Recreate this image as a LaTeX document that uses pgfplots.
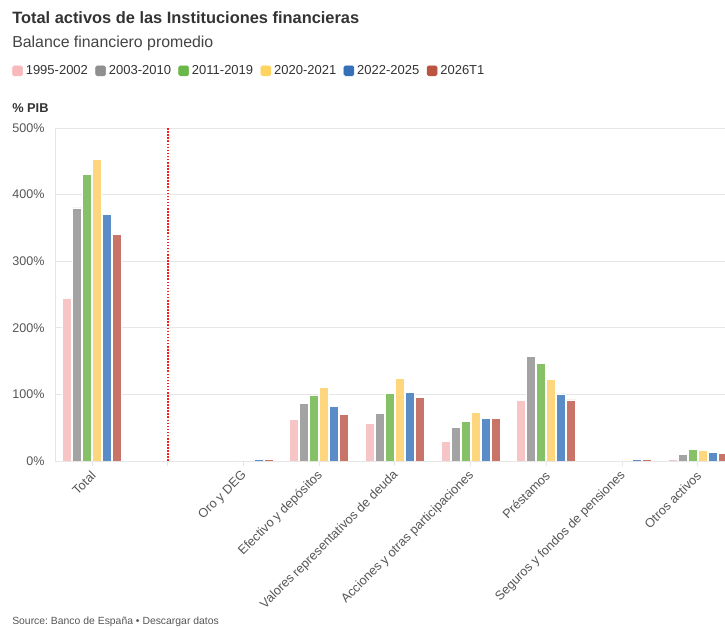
\documentclass[border=0pt]{standalone}
\usepackage{pgfplots}
\pgfplotsset{compat=1.18}
\usepackage{fontspec}
\setmainfont{Liberation Sans}
\frenchspacing
\definecolor{bPink}{HTML}{F7C5C5}
\definecolor{bGray}{HTML}{A3A3A3}
\definecolor{bGreen}{HTML}{86C167}
\definecolor{bYellow}{HTML}{FDD67D}
\definecolor{bBlue}{HTML}{5A8CC8}
\definecolor{bRed}{HTML}{C87468}
\definecolor{lPink}{HTML}{F7B9B9}
\definecolor{lGray}{HTML}{8F8F8F}
\definecolor{lGreen}{HTML}{6BB84A}
\definecolor{lYellow}{HTML}{FFD35E}
\definecolor{lBlue}{HTML}{3670B9}
\definecolor{lRed}{HTML}{BA5541}
\definecolor{tcol}{HTML}{333333}
\definecolor{scol}{HTML}{444444}
\definecolor{gcol}{HTML}{E6E6E6}
\definecolor{kcol}{HTML}{555555}
\definecolor{sepred}{HTML}{FF1A1A}
\pgfplotstableread{
x p1 p2 p3 p4 p5 p6
0 245 380 430 453 370 340
2 0.5 0.5 1 1 2.5 3
3 62 86.6 98.6 110.6 81.5 70
4 56.6 71.6 102 124.6 103 96
5 29 50.6 60 73 64 63.5
6 90.5 157 146.7 123 100.6 91.6
7 0.5 1 1 1.5 2 2
8 3 10 18 16.5 13.5 11.5
}\data
\newcommand{\legimg}[1]{\fill[#1,rounded corners=1.2pt] (0pt,-3.6pt) rectangle (7.5pt,3.9pt);}
\begin{document}
\begin{tikzpicture}
\useasboundingbox (0pt,0pt) rectangle (543.75pt,471pt);
\node[anchor=base west, inner sep=0pt, text=tcol, font=\bfseries\fontsize{12.3}{14}\selectfont] at (9pt,453pt) {Total activos de las Instituciones financieras};
\node[anchor=base west, inner sep=0pt, text=scol, font=\fontsize{11.9}{13}\selectfont] at (9pt,435pt) {Balance financiero promedio};
\node[anchor=base west, inner sep=0pt, text=tcol, font=\bfseries\fontsize{9.6}{11}\selectfont] at (9pt,386.25pt) {\% PIB};
\node[anchor=base west, inner sep=0pt, text=kcol, font=\fontsize{7.8}{9}\selectfont] at (9pt,2.25pt) {Source: Banco de España • Descargar datos};
\begin{axis}[
  at={(41.25pt,125.25pt)}, anchor=south west,
  scale only axis, width=502.5pt, height=249.75pt,
  ybar=0.75pt, bar width=6.75pt,
  xmin=-0.489, xmax=8.362, ymin=0, ymax=500,
  axis lines*=left,
  axis line style={draw=gcol, line width=0.6pt},
  x axis line style={draw=none},
  ymajorgrids, grid style={gcol, line width=0.6pt},
  ytick={0,100,200,300,400,500},
  yticklabels={0\%,100\%,200\%,300\%,400\%,500\%},
  ytick style={draw=none},
  yticklabel style={text=kcol, font=\fontsize{9.4}{11}\selectfont, xshift=-4.4pt},
  xtick={0,1,2,3,4,5,6,7,8},
  xticklabels={Total,,Oro y DEG,Efectivo y depósitos,Valores representativos de deuda,Acciones y otras participaciones,Préstamos,Seguros y fondos de pensiones,Otros activos},
  xtick align=outside, major tick length=3.75pt,
  xtick style={draw=gcol, line width=0.6pt},
  xticklabel style={xshift=3.5pt, yshift=-3.2pt, rotate=45, anchor=east, text=kcol, font=\fontsize{9.5}{11}\selectfont},
  legend columns=6,
  legend style={at={(-0.0642,1.1712)}, anchor=west, draw=none, fill=none, inner sep=0pt,
    font=\fontsize{9.75}{11}\selectfont, text=tcol,
    nodes={inner xsep=2.25pt, inner ysep=1pt},
    /tikz/every even column/.append style={column sep=3.3pt}},
  every axis plot/.append style={draw=white, line width=0.4pt},
]
\addplot[fill=bPink, legend image code/.code={\legimg{lPink}}] table[x=x,y=p1]{\data};
\addplot[fill=bGray, legend image code/.code={\legimg{lGray}}] table[x=x,y=p2]{\data};
\addplot[fill=bGreen, legend image code/.code={\legimg{lGreen}}] table[x=x,y=p3]{\data};
\addplot[fill=bYellow, legend image code/.code={\legimg{lYellow}}] table[x=x,y=p4]{\data};
\addplot[fill=bBlue, legend image code/.code={\legimg{lBlue}}] table[x=x,y=p5]{\data};
\addplot[fill=bRed, legend image code/.code={\legimg{lRed}}] table[x=x,y=p6]{\data};
\legend{1995-2002,2003-2010,2011-2019,2020-2021,2022-2025,2026T1}
\draw[draw=sepred, line width=1.5pt, dash pattern=on 1.2pt off 1.1pt] (axis cs:1,0) -- (axis cs:1,500);
\end{axis}
\end{tikzpicture}
\end{document}
